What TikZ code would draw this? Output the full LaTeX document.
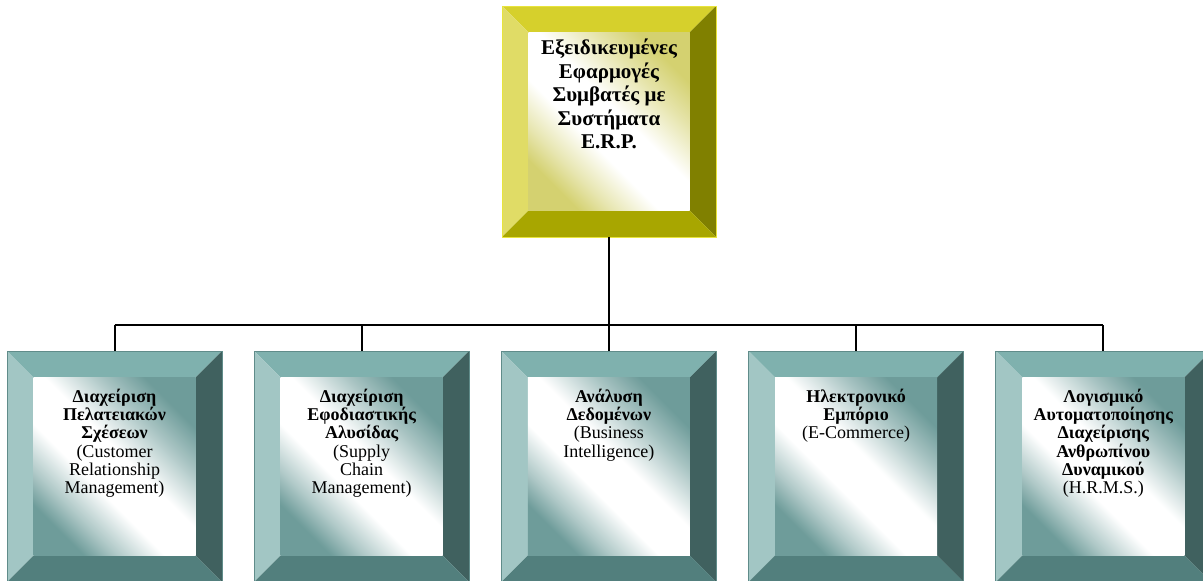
\documentclass[tikz,border=0pt]{standalone}
\usepackage{fontspec}
\setmainfont{Liberation Serif}

\definecolor{yeltop}{RGB}{214,208,44}
\definecolor{yelleft}{RGB}{224,220,102}
\definecolor{yelright}{RGB}{128,128,0}
\definecolor{yelbot}{RGB}{168,166,0}
\definecolor{yelmid}{RGB}{212,209,112}
\definecolor{yelrim}{RGB}{232,228,60}
\definecolor{tealtop}{RGB}{127,177,174}
\definecolor{tealleft}{RGB}{162,198,196}
\definecolor{tealright}{RGB}{64,97,95}
\definecolor{tealbot}{RGB}{82,127,125}
\definecolor{tealmid}{RGB}{110,156,154}
\definecolor{tealrim}{RGB}{96,140,138}

\pgfdeclarehorizontalshading{yelglow}{100bp}{color(0bp)=(yelmid); color(25bp)=(yelmid); color(32bp)=(yelmid!55!white); color(42bp)=(white); color(54bp)=(white); color(66bp)=(yelmid!60!white); color(75bp)=(yelmid); color(100bp)=(yelmid)}
\pgfdeclarehorizontalshading{tealglow}{100bp}{color(0bp)=(tealmid); color(25bp)=(tealmid); color(32bp)=(tealmid!55!white); color(42bp)=(white); color(54bp)=(white); color(66bp)=(tealmid!60!white); color(75bp)=(tealmid); color(100bp)=(tealmid)}

\begin{document}
\begin{tikzpicture}[x=1pt,y=-1pt,line width=2pt,
  frame/.style={minimum width=213pt,minimum height=229pt,inner sep=0pt},
  toptext/.style={anchor=north,inner sep=0pt,align=center,font=\fontsize{21}{23.5}\selectfont},
  subtext/.style={anchor=north,inner sep=0pt,align=center,font=\fontsize{18}{18.3}\selectfont}]

\def \d{26.5}
\def \bevel#1#2{%
  \fill[#2top] (#1.north west) -- (#1.north east) -- ([shift={(-\d,\d)}]#1.north east) -- ([shift={(\d,\d)}]#1.north west) -- cycle;
  \fill[#2left] (#1.north west) -- ([shift={(\d,\d)}]#1.north west) -- ([shift={(\d,-\d)}]#1.south west) -- (#1.south west) -- cycle;
  \fill[#2right] (#1.north east) -- (#1.south east) -- ([shift={(-\d,-\d)}]#1.south east) -- ([shift={(-\d,\d)}]#1.north east) -- cycle;
  \fill[#2bot] (#1.south west) -- ([shift={(\d,-\d)}]#1.south west) -- ([shift={(-\d,-\d)}]#1.south east) -- (#1.south east) -- cycle;
  \shade[shading=#2glow,shading angle=45] ([shift={(\d,\d)}]#1.north west) rectangle ([shift={(-\d,-\d)}]#1.south east);
  \draw[#2rim,line width=0.8pt] (#1.north west) rectangle (#1.south east);
}

\useasboundingbox (0,0) rectangle (1203,581);

\node[frame,minimum width=212pt] (erp) at (609,121.5) {};
\bevel{erp}{yel}

\foreach \n/\x in {crm/114.5, scm/361.7, bi/608.9, ecom/856.1, hrms/1103.3}
{
  \node[frame] (\n) at (\x,466.5) {};
  \bevel{\n}{teal}
}

\node[toptext] (erptext) at ([shift={(0,32)}]erp.north)
  {\bfseries Εξειδικευμένες\\ \bfseries Εφαρμογές\\ \bfseries Συμβατές με\\ \bfseries Συστήματα\\ \bfseries E.R.P.};

\node[subtext] (crmtext) at ([shift={(0,37)}]crm.north)
  {\bfseries Διαχείριση\\ \bfseries Πελατειακών\\ \bfseries Σχέσεων\\ (Customer\\ Relationship\\ Management)};
\node[subtext] (scmtext) at ([shift={(0,37)}]scm.north)
  {\bfseries Διαχείριση\\ \bfseries Εφοδιαστικής\\ \bfseries Αλυσίδας\\ (Supply\\ Chain\\ Management)};
\node[subtext] (bitext) at ([shift={(0,37)}]bi.north)
  {\bfseries Ανάλυση\\ \bfseries Δεδομένων\\ (Business\\ Intelligence)};
\node[subtext] (ecomtext) at ([shift={(0,37)}]ecom.north)
  {\bfseries Ηλεκτρονικό\\ \bfseries Εμπόριο\\ (E-Commerce)};
\node[subtext] (hrmstext) at ([shift={(0,37)}]hrms.north)
  {\bfseries Λογισμικό\\ \bfseries Αυτοματοποίησης\\ \bfseries Διαχείρισης\\ \bfseries Ανθρωπίνου\\ \bfseries Δυναμικού\\ (H.R.M.S.)};

% connectors
\coordinate (bus) at (609,325);
\draw (erp.south) -- (erp.south |- bus);
\draw (crm.north |- bus) -- (hrms.north |- bus);
\foreach \n in {crm, scm, bi, ecom, hrms}
  \draw (\n.north |- bus) -- (\n.north);

\end{tikzpicture}
\end{document}
